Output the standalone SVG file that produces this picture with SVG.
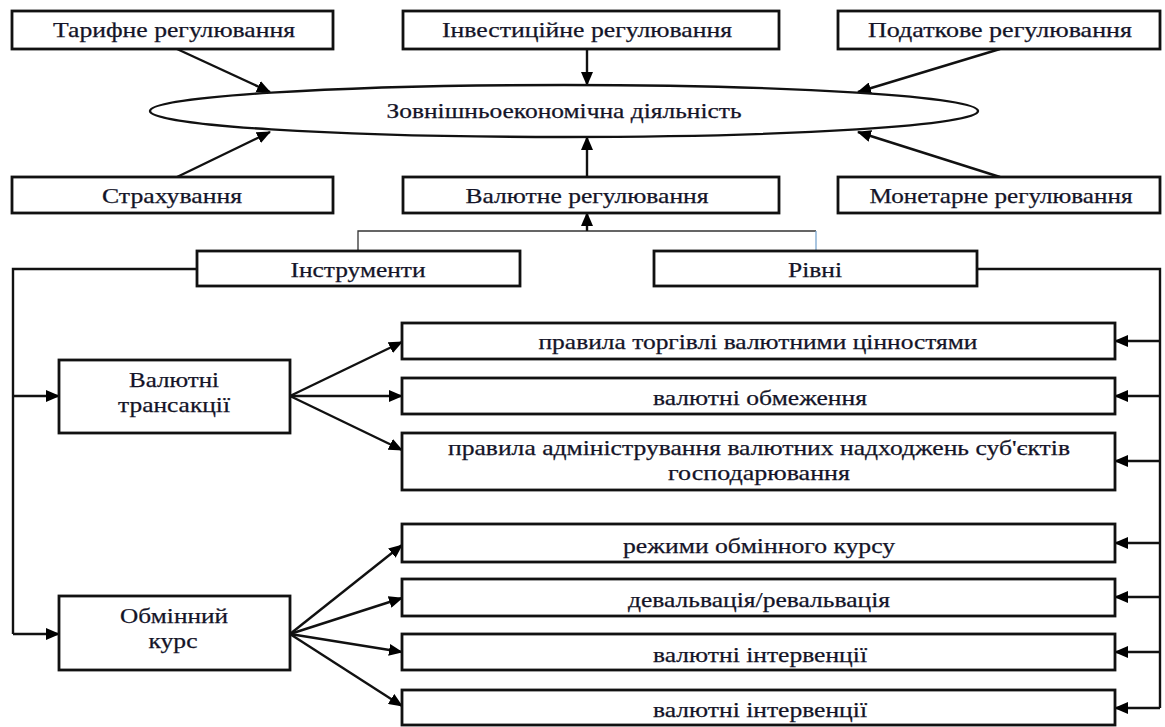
<svg xmlns="http://www.w3.org/2000/svg" width="1165" height="727" viewBox="0 0 1165 727">
<defs>
<marker id="ah" markerUnits="userSpaceOnUse" markerWidth="14" markerHeight="12" refX="13" refY="6" orient="auto">
<path d="M0,0 L14,6 L0,12 z" fill="#000"/>
</marker>
<style>
.box{fill:#fff;stroke:#111;stroke-width:2.8}
.t{font-family:"Liberation Serif","Times New Roman",serif;font-size:21px;fill:#141428;stroke:#141428;stroke-width:0.25;text-anchor:middle}
.c{fill:none;stroke:#111;stroke-width:2.4}
.a{fill:none;stroke:#111;stroke-width:2.4;marker-end:url(#ah)}
.thin{fill:none;stroke:#333;stroke-width:1.3}
</style>
</defs>
<rect width="1165" height="727" fill="#fff"/>
<g id="connectors">
<path class="a" d="M177,49 L270,92"/>
<path class="a" d="M177,177 L270,132"/>
<path class="a" d="M587,49 L587,85"/>
<path class="a" d="M587,177 L587,137"/>
<path class="a" d="M1000,49 L858,92"/>
<path class="a" d="M1000,177 L858,132"/>
<path class="thin" d="M358,251 L358,231 L816,231"/>
<path fill="none" stroke="#7aa6d0" stroke-width="1.3" d="M816,231 L816,251"/>
<path class="a" d="M587,231 L587,213"/>
<path class="c" d="M197,269 L13,269 L13,634"/>
<path class="a" d="M13,396 L59,396"/>
<path class="a" d="M13,634 L59,634"/>
<path class="c" d="M977,269 L1160,269 L1160,708"/>
<path class="a" d="M1160,341 L1115,341"/>
<path class="a" d="M1160,396 L1115,396"/>
<path class="a" d="M1160,461 L1115,461"/>
<path class="a" d="M1160,543 L1115,543"/>
<path class="a" d="M1160,597 L1115,597"/>
<path class="a" d="M1160,652 L1115,652"/>
<path class="a" d="M1160,708 L1115,708"/>
<path class="a" d="M290,396 L402,342"/>
<path class="a" d="M290,396 L402,396"/>
<path class="a" d="M290,396 L402,450"/>
<path class="a" d="M290,634 L402,545"/>
<path class="a" d="M290,634 L402,598"/>
<path class="a" d="M290,634 L402,652"/>
<path class="a" d="M290,634 L402,706"/>
</g>
<g id="n-tarif"><rect class="box" x="12" y="11" width="321" height="38"/><text class="t" x="174" y="37" textLength="242" lengthAdjust="spacingAndGlyphs">Тарифне регулювання</text></g>
<g id="n-invest"><rect class="box" x="403" y="11" width="376" height="38"/><text class="t" x="587" y="37" textLength="290" lengthAdjust="spacingAndGlyphs">Інвестиційне регулювання</text></g>
<g id="n-podat"><rect class="box" x="838" y="11" width="322" height="38"/><text class="t" x="1000" y="37" textLength="264" lengthAdjust="spacingAndGlyphs">Податкове регулювання</text></g>
<g id="n-zed"><ellipse cx="564" cy="111" rx="414" ry="26" fill="#fff" stroke="#111" stroke-width="2.4"/><text class="t" x="564" y="118" textLength="355" lengthAdjust="spacingAndGlyphs">Зовнішньоекономічна діяльність</text></g>
<g id="n-strakh"><rect class="box" x="12" y="177" width="321" height="36"/><text class="t" x="172" y="203" textLength="140" lengthAdjust="spacingAndGlyphs">Страхування</text></g>
<g id="n-valreg"><rect class="box" x="403" y="177" width="376" height="36"/><text class="t" x="587" y="203" textLength="243" lengthAdjust="spacingAndGlyphs">Валютне регулювання</text></g>
<g id="n-monet"><rect class="box" x="838" y="177" width="322" height="36"/><text class="t" x="1001" y="203" textLength="263" lengthAdjust="spacingAndGlyphs">Монетарне регулювання</text></g>
<g id="n-instr"><rect class="box" x="197" y="251" width="323" height="35"/><text class="t" x="358" y="277" textLength="135" lengthAdjust="spacingAndGlyphs">Інструменти</text></g>
<g id="n-rivni"><rect class="box" x="654" y="251" width="323" height="35"/><text class="t" x="815" y="277" textLength="54" lengthAdjust="spacingAndGlyphs">Рівні</text></g>
<g id="n-valtr"><rect class="box" x="59" y="360" width="231" height="73"/><text class="t" x="174" y="387" textLength="90" lengthAdjust="spacingAndGlyphs">Валютні</text><text class="t" x="174" y="412" textLength="112" lengthAdjust="spacingAndGlyphs">трансакції</text></g>
<g id="n-obmin"><rect class="box" x="59" y="596" width="231" height="74"/><text class="t" x="174" y="623" textLength="108" lengthAdjust="spacingAndGlyphs">Обмінний</text><text class="t" x="173" y="648" textLength="49" lengthAdjust="spacingAndGlyphs">курс</text></g>
<g id="n-r1"><rect class="box" x="402" y="323" width="713" height="36"/><text class="t" x="758" y="349" textLength="439" lengthAdjust="spacingAndGlyphs">правила торгівлі валютними цінностями</text></g>
<g id="n-r2"><rect class="box" x="402" y="378" width="713" height="36"/><text class="t" x="760" y="405" textLength="214" lengthAdjust="spacingAndGlyphs">валютні обмеження</text></g>
<g id="n-r3"><rect class="box" x="402" y="433" width="713" height="57"/><text class="t" x="759" y="455" textLength="622" lengthAdjust="spacingAndGlyphs">правила адміністрування валютних надходжень суб'єктів</text><text class="t" x="759" y="480" textLength="182" lengthAdjust="spacingAndGlyphs">господарювання</text></g>
<g id="n-r4"><rect class="box" x="402" y="524" width="713" height="38"/><text class="t" x="759" y="553" textLength="272" lengthAdjust="spacingAndGlyphs">режими обмінного курсу</text></g>
<g id="n-r5"><rect class="box" x="402" y="579" width="713" height="37"/><text class="t" x="759" y="607" textLength="262" lengthAdjust="spacingAndGlyphs">девальвація/ревальвація</text></g>
<g id="n-r6"><rect class="box" x="402" y="634" width="713" height="36"/><text class="t" x="760" y="662" textLength="214" lengthAdjust="spacingAndGlyphs">валютні інтервенції</text></g>
<g id="n-r7"><rect class="box" x="402" y="690" width="713" height="35"/><text class="t" x="760" y="717" textLength="214" lengthAdjust="spacingAndGlyphs">валютні інтервенції</text></g>
</svg>
